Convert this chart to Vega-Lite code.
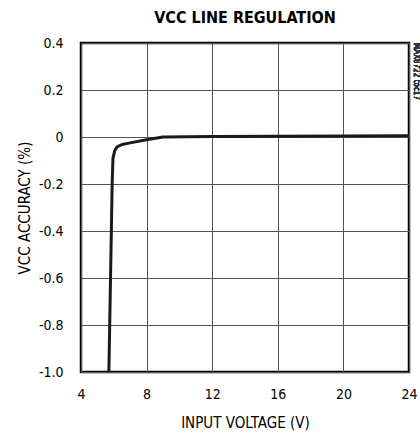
{
  "$schema": "https://vega.github.io/schema/vega-lite/v6.json",
  "autosize": {"type": "none"},
  "padding": {"left": 81, "top": 43, "right": 11, "bottom": 61},
  "width": 328,
  "height": 329,
  "background": "white",
  "title": {
    "text": "VCC LINE REGULATION",
    "font": "DejaVu Sans Condensed, sans-serif",
    "fontSize": 16,
    "fontWeight": "bold",
    "color": "black",
    "anchor": "middle",
    "offset": 10
  },
  "config": {
    "view": {"stroke": "black", "strokeWidth": 2.5},
    "axis": {
      "labelFont": "DejaVu Sans Condensed, sans-serif",
      "titleFont": "DejaVu Sans Condensed, sans-serif",
      "labelFontSize": 14,
      "titleFontSize": 15,
      "titleFontWeight": "normal",
      "labelColor": "black",
      "titleColor": "black",
      "gridColor": "#555",
      "gridWidth": 1,
      "gridOpacity": 1,
      "domain": false,
      "ticks": false
    }
  },
  "data": {
    "values": [
      {"v": 5.7, "acc": -1.0},
      {"v": 5.8, "acc": -0.6},
      {"v": 5.9, "acc": -0.2},
      {"v": 5.95, "acc": -0.09},
      {"v": 6.05, "acc": -0.06},
      {"v": 6.2, "acc": -0.042},
      {"v": 6.5, "acc": -0.032},
      {"v": 7.0, "acc": -0.025},
      {"v": 8.0, "acc": -0.012},
      {"v": 9.0, "acc": 0.0},
      {"v": 12.0, "acc": 0.002},
      {"v": 16.0, "acc": 0.003},
      {"v": 20.0, "acc": 0.004},
      {"v": 24.0, "acc": 0.005}
    ]
  },
  "layer": [
    {
      "mark": {"type": "line", "color": "#1a1a1a", "strokeWidth": 3, "strokeJoin": "round", "clip": true},
      "encoding": {
        "x": {
          "field": "v", "type": "quantitative",
          "scale": {"domain": [4, 24], "nice": false, "zero": false},
          "axis": {"values": [4, 8, 12, 16, 20, 24], "title": "INPUT VOLTAGE (V)", "labelPadding": 15, "titlePadding": 14, "labelFlush": false}
        },
        "y": {
          "field": "acc", "type": "quantitative",
          "scale": {"domain": [-1.0, 0.4], "nice": false, "zero": false},
          "axis": {
            "values": [-1.0, -0.8, -0.6, -0.4, -0.2, 0, 0.2, 0.4],
            "title": "VCC ACCURACY (%)",
            "labelExpr": "datum.value == 0 ? '0' : replace(format(datum.value, '.1f'), '\u2212', '-')",
            "labelPadding": 18,
            "titlePadding": 6,
            "labelFlush": false
          }
        }
      }
    },
    {
      "mark": {"type": "text", "angle": 90, "align": "left", "baseline": "bottom", "dy": -3, "fontSize": 8, "font": "DejaVu Sans Condensed, sans-serif", "color": "#333"},
      "encoding": {
        "x": {"datum": 24},
        "y": {"datum": 0.4},
        "text": {"value": "MAX8722 toc17"}
      }
    }
  ]
}
